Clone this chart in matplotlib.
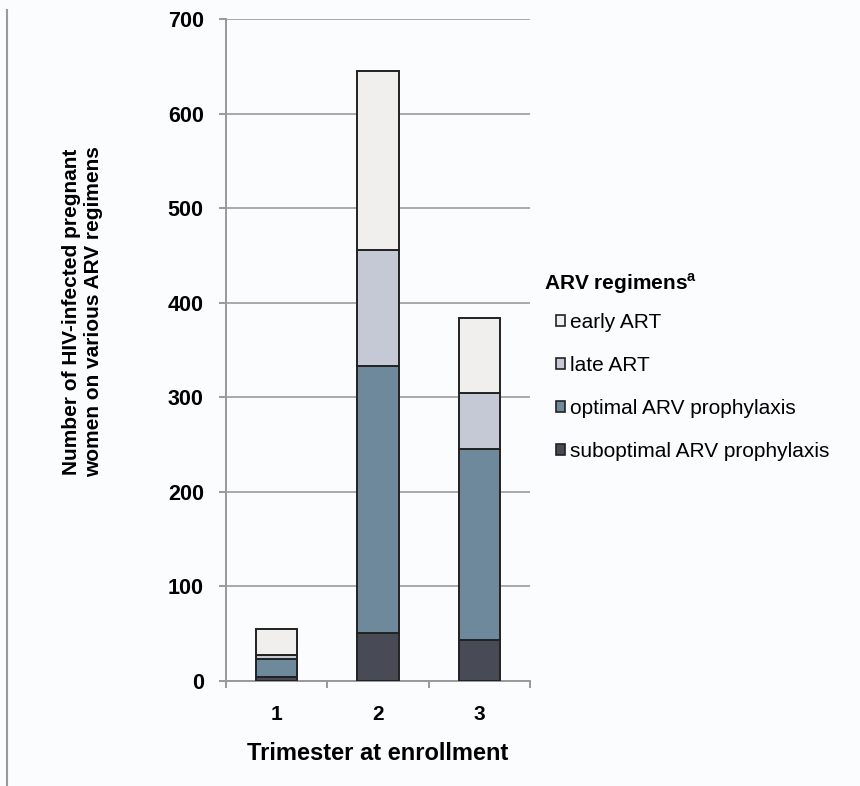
import matplotlib
matplotlib.use("Agg")
import matplotlib.pyplot as plt
from matplotlib.lines import Line2D
from matplotlib.patches import Patch
import numpy as np

plt.rcParams["font.family"] = ["Liberation Sans", "DejaVu Sans"]

# data
trimesters = ["1", "2", "3"]
suboptimal = [4, 51, 43]
optimal = [19, 282, 202]
late_art = [5, 123, 60]
early_art = [27, 189, 79]

series_names = ["suboptimal ARV prophylaxis", "optimal ARV prophylaxis", "late ART", "early ART"]
series_vals = [suboptimal, optimal, late_art, early_art]
series_cols = ["#484a55", "#6e899b", "#c5c9d5", "#f0efee"]

W, H = 860, 786
fig = plt.figure(figsize=(W / 100, H / 100), dpi=100)
fig.patch.set_facecolor("#fbfcfd")
ax = fig.add_axes([226 / W, 1 - 681 / H, 304 / W, 662 / H])
ax.set_facecolor("#fbfcfd")

x = np.arange(1, len(trimesters) + 1)
bottom = np.zeros(len(trimesters))
for name, vals, col in zip(series_names, series_vals, series_cols):
    ax.bar(x, vals, width=0.41, bottom=bottom, color=col, edgecolor="#222222",
           linewidth=1.4, label=name, zorder=3)
    bottom += np.array(vals)

ax.set_xlim(0.5, 3.5)
ax.set_ylim(0, 700)
ax.set_yticks(np.arange(0, 701, 100))
ax.yaxis.grid(True, color="#a9a9a9", linewidth=1.4, zorder=0)
ax.set_axisbelow(True)

# category boundary ticks, labels in the middle
ax.set_xticks([0.5, 1.5, 2.5, 3.5])
ax.set_xticklabels([])
ax.set_xticks(x, minor=True)
ax.set_xticklabels(trimesters, minor=True, fontsize=15, fontweight="bold")
ax.tick_params(axis="x", which="minor", length=0, pad=17)
ax.tick_params(axis="x", which="major", length=5, color="#999999", width=1.4)
ax.tick_params(axis="y", length=5, color="#999999", width=1.4, pad=11, labelsize=15.5)
for lab in ax.get_yticklabels():
    lab.set_fontweight("bold")

for s in ["top", "right"]:
    ax.spines[s].set_visible(False)
for s in ["left", "bottom"]:
    ax.spines[s].set_color("#999999")
    ax.spines[s].set_linewidth(1.4)

ax.set_xlabel("Trimester at enrollment", fontsize=17, fontweight="bold", labelpad=13)
fig.text(83 / W, 1 - 312 / H, "Number of HIV-infected pregnant\nwomen on various ARV regimens",
         rotation=90, ha="center", va="center", fontsize=15, fontweight="bold",
         linespacing=1.2)

# legend
fig.text(544 / W, 1 - 284 / H, r"ARV regimens$^\mathregular{a}$", fontsize=15,
         fontweight="bold", ha="left", va="center")
handles = [Patch(facecolor=c, edgecolor="#222222", linewidth=1.2, label=n)
           for n, c in zip(series_names, series_cols)][::-1]
fig.legend(handles=handles, loc="upper left", bbox_to_anchor=(556 / W, 1 - 313 / H),
           frameon=False, fontsize=15, handlelength=0.45, handleheight=0.45,
           handletextpad=0.2, labelspacing=1.15, borderpad=0, borderaxespad=0)

# left border line of the panel
fig.add_artist(Line2D([7 / W, 7 / W], [1 - 10 / H, 0.0], color="#9a9a9a", linewidth=1.5))

fig.savefig("out.png", dpi=100, facecolor=fig.get_facecolor())
